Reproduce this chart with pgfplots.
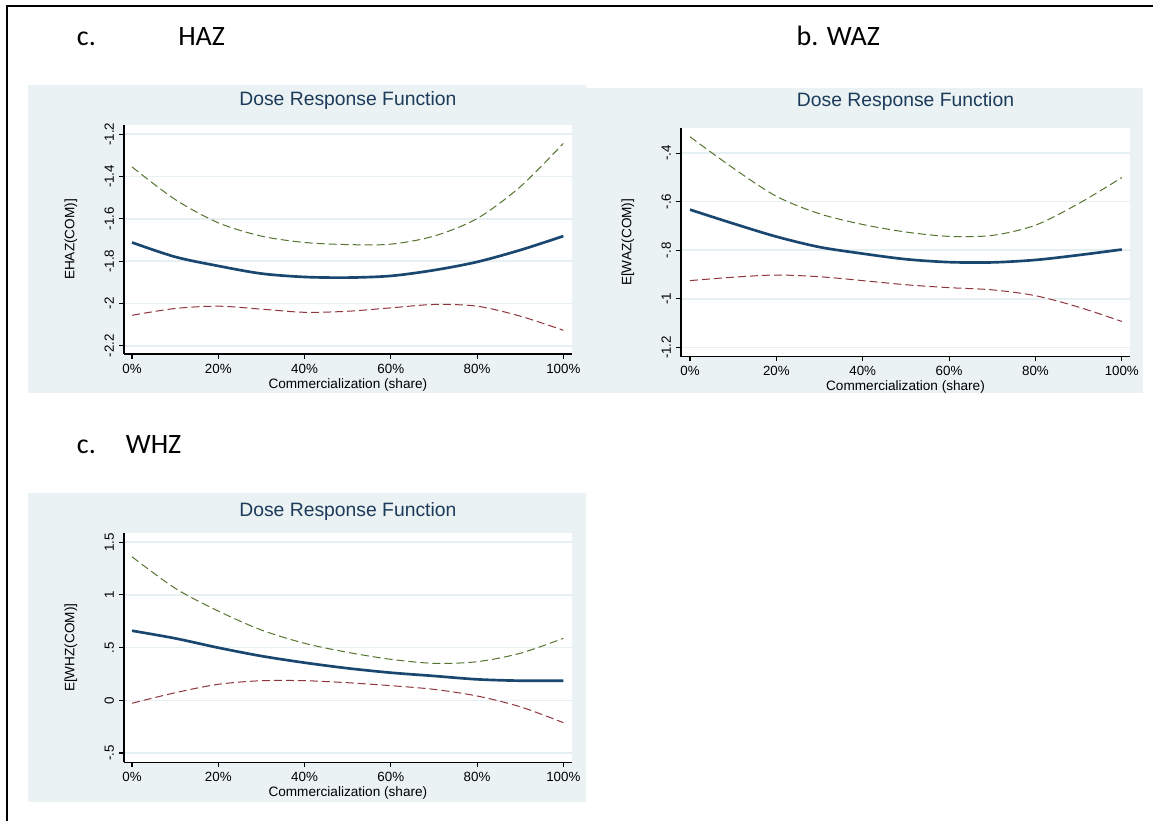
\documentclass[border=0pt]{standalone}
\usepackage{pgfplots}
\pgfplotsset{compat=1.18}
\usepackage{fontspec}
\setmainfont{Liberation Sans}
\newfontfamily\headfont{Carlito}
\definecolor{bgc}{HTML}{EAF2F3}
\definecolor{gridc}{HTML}{E6EFF1}
\definecolor{navyc}{HTML}{1A476F}
\definecolor{greenc}{HTML}{55752F}
\definecolor{maroonc}{HTML}{90353B}
\definecolor{titlec}{HTML}{1C3A5A}

\pgfplotsset{drf/.style={
  scale only axis,
  axis lines=left,
  axis line style={-, black, line width=1.1pt},
  axis background/.style={fill=white},
  tick align=outside,
  major tick length=3.5pt,
  tick style={black, line width=0.8pt},
  ymajorgrids,
  grid style={gridc, line width=1.2pt},
  xtick={0,20,40,60,80,100},
  xticklabels={0\%,20\%,40\%,60\%,80\%,100\%},
  tick label style={font=\fontsize{10}{11}\selectfont, black},
  xticklabel style={anchor=center, yshift=-7.5pt},
  yticklabel style={xshift=-7.5pt, rotate=90, anchor=center},
  label style={font=\fontsize{10.2}{11}\selectfont, black},
  xlabel={Commercialization (share)},
  title={Dose Response Function},
  title style={font=\fontsize{14.5}{16}\selectfont, color=titlec, at={(0.5,1)}, anchor=center},
  xlabel style={at={(axis description cs:0.5,0)}, anchor=center},
  ylabel style={at={(axis description cs:0,0.5)}, anchor=center, yshift=39.9pt},
  clip=false,
}}
\tikzset{
  mainline/.style={color=navyc, line width=2pt, smooth, tension=0.5},
  upline/.style={color=greenc, line width=0.75pt, dash pattern=on 6pt off 3pt, smooth, tension=0.5},
  loline/.style={color=maroonc, line width=0.75pt, dash pattern=on 6pt off 3pt, smooth, tension=0.5},
}

\begin{document}
\begin{tikzpicture}
\useasboundingbox (0pt,0pt) rectangle (864.75pt,-615.75pt);
\fill[white] (0pt,0pt) rectangle (864.75pt,-615.75pt);
% outer frame (top and left visible)
\draw[line width=1.5pt, black] (4.9pt,-615.75pt) -- (4.9pt,-4.5pt) -- (864.75pt,-4.5pt);
% headings
\node[anchor=base west, inner sep=0pt, font=\headfont\fontsize{21}{24}\selectfont] at (57.5pt,-33.75pt) {c.};
\node[anchor=base west, inner sep=0pt, font=\headfont\fontsize{21}{24}\selectfont] at (133.5pt,-33.75pt) {HAZ};
\node[anchor=base west, inner sep=0pt, font=\headfont\fontsize{21}{24}\selectfont] at (597.3pt,-33.75pt) {b. WAZ};
\node[anchor=base west, inner sep=0pt, font=\headfont\fontsize{21}{24}\selectfont] at (57.5pt,-340pt) {c.};
\node[anchor=base west, inner sep=0pt, font=\headfont\fontsize{21}{24}\selectfont] at (94.2pt,-340pt) {WHZ};
% panel backgrounds
\fill[bgc] (21pt,-63.75pt) rectangle (439.3pt,-294.75pt);
\fill[bgc] (439.3pt,-65.8pt) rectangle (857pt,-294.75pt);
\fill[bgc] (21pt,-370pt) rectangle (439.3pt,-601.7pt);

% ---------------- HAZ ----------------
\begin{axis}[drf, at={(93pt,-265.5pt)}, anchor=south west,
  width=335.8pt, height=171.75pt,
  xmin=-1.86, xmax=101.95, ymin=-2.239, ymax=-1.157,
  ytick={-2.2,-2,-1.8,-1.6,-1.4,-1.2},
  yticklabels={-2.2,-2,-1.8,-1.6,-1.4,-1.2},
  ylabel={EHAZ(COM)]},
  title style={yshift=12.75pt},
  xlabel style={yshift=-23.25pt}]
\addplot[upline] coordinates {(0,-1.355) (10,-1.509) (20,-1.619) (30,-1.682) (40,-1.712) (50,-1.722) (60,-1.720) (70,-1.682) (80,-1.599) (90,-1.449) (100,-1.244)};
\addplot[loline] coordinates {(0,-2.056) (10,-2.024) (20,-2.013) (30,-2.027) (40,-2.042) (50,-2.037) (60,-2.021) (70,-2.005) (80,-2.013) (90,-2.060) (100,-2.127)};
\addplot[mainline] coordinates {(0,-1.712) (10,-1.780) (20,-1.823) (30,-1.859) (40,-1.875) (50,-1.878) (60,-1.870) (70,-1.843) (80,-1.804) (90,-1.748) (100,-1.682)};
\end{axis}

% ---------------- WAZ ----------------
\begin{axis}[drf, at={(510.75pt,-267.5pt)}, anchor=south west,
  width=336.75pt, height=171.5pt,
  xmin=-2.08, xmax=101.9, ymin=-1.238, ymax=-0.297,
  ytick={-1.2,-1,-0.8,-0.6,-0.4},
  yticklabels={-1.2,-1,-.8,-.6,-.4},
  ylabel={E[WAZ(COM)]},
  title style={yshift=14.25pt},
  xlabel style={yshift=-22.5pt}]
\addplot[upline] coordinates {(0,-0.333) (10,-0.462) (20,-0.578) (30,-0.650) (40,-0.694) (50,-0.725) (60,-0.743) (70,-0.739) (80,-0.697) (90,-0.608) (100,-0.501)};
\addplot[loline] coordinates {(0,-0.925) (10,-0.911) (20,-0.902) (30,-0.909) (40,-0.925) (50,-0.942) (60,-0.954) (70,-0.963) (80,-0.987) (90,-1.034) (100,-1.093)};
\addplot[mainline] coordinates {(0,-0.633) (10,-0.690) (20,-0.744) (30,-0.787) (40,-0.814) (50,-0.837) (60,-0.849) (70,-0.850) (80,-0.840) (90,-0.820) (100,-0.797)};
\end{axis}

% ---------------- WHZ ----------------
\begin{axis}[drf, at={(93pt,-571.7pt)}, anchor=south west,
  width=335.8pt, height=171.75pt,
  xmin=-1.86, xmax=101.95, ymin=-0.588, ymax=1.585,
  ytick={-0.5,0,0.5,1,1.5},
  yticklabels={-.5,0,.5,1,1.5},
  ylabel={E[WHZ(COM)]},
  title style={yshift=10.2pt},
  xlabel style={yshift=-22.8pt}]
\addplot[upline] coordinates {(0,1.362) (10,1.063) (20,0.847) (30,0.667) (40,0.541) (50,0.455) (60,0.389) (70,0.351) (80,0.366) (90,0.446) (100,0.588)};
\addplot[loline] coordinates {(0,-0.028) (10,0.072) (20,0.152) (30,0.186) (40,0.186) (50,0.167) (60,0.139) (70,0.104) (80,0.041) (90,-0.061) (100,-0.212)};
\addplot[mainline] coordinates {(0,0.660) (10,0.588) (20,0.499) (30,0.420) (40,0.357) (50,0.304) (60,0.262) (70,0.231) (80,0.199) (90,0.186) (100,0.186)};
\end{axis}
\end{tikzpicture}
\end{document}
